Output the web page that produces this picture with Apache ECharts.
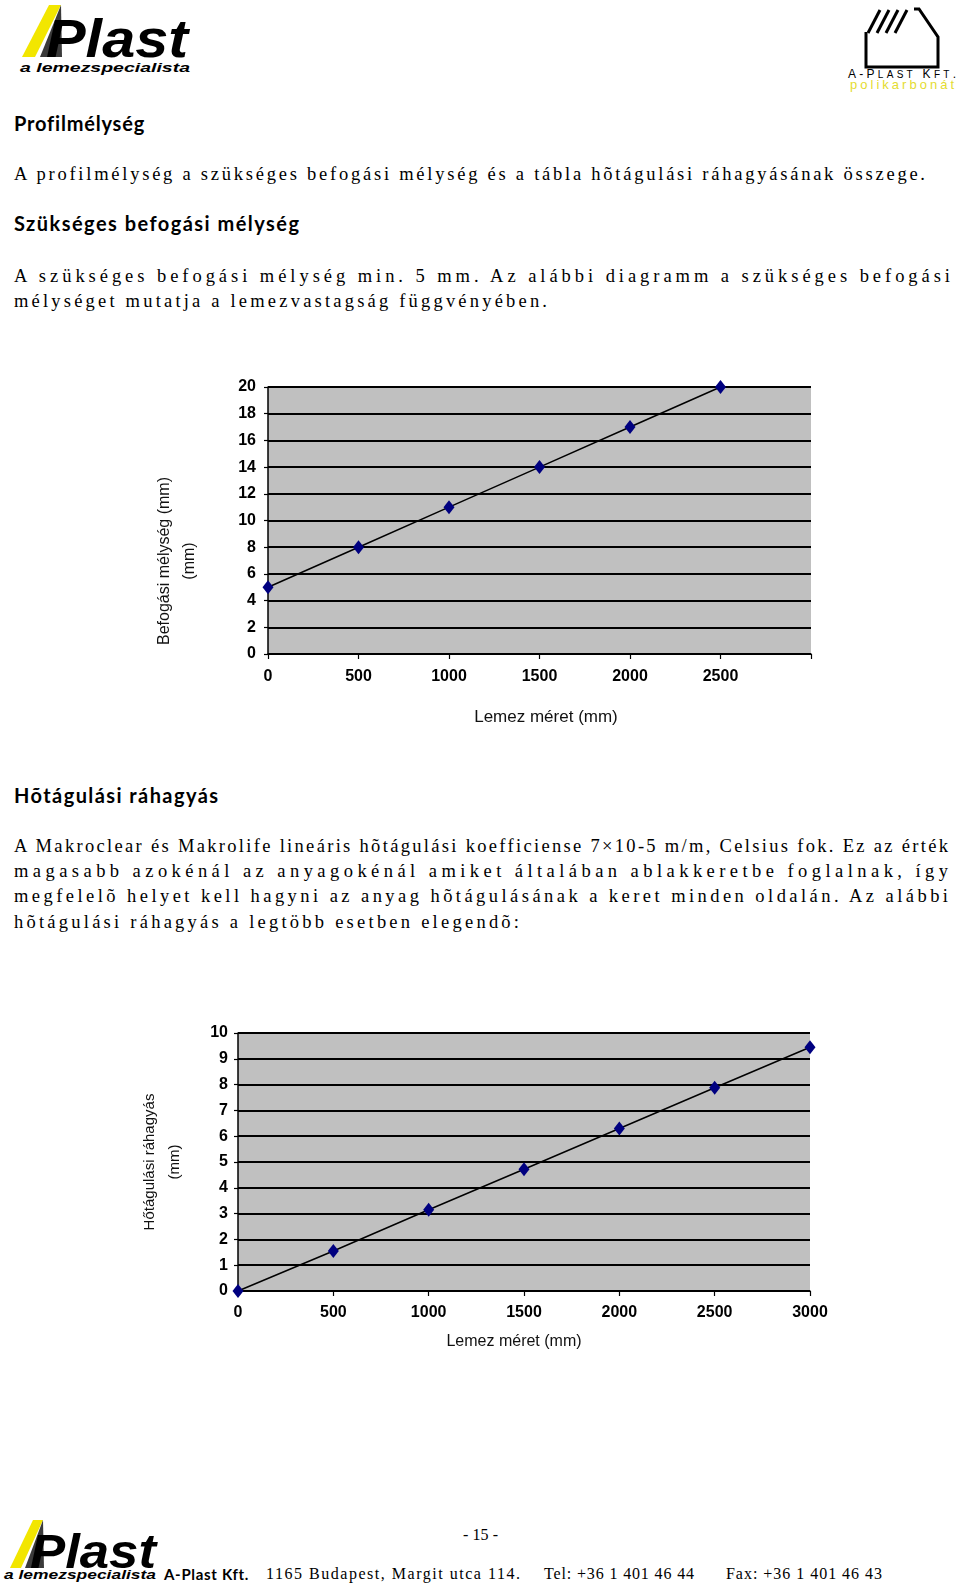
<!DOCTYPE html>
<html>
<head>
<meta charset="utf-8">
<script src="https://cdn.jsdelivr.net/npm/echarts@6/dist/echarts.min.js"></script>
<style>
html,body{margin:0;padding:0;background:#fff;}
#page{position:relative;width:960px;height:1585px;overflow:hidden;background:#fff;}
.t{position:absolute;white-space:nowrap;color:#000;}
.h{font-family:Lato,"Liberation Sans",Arial,sans-serif;font-weight:bold;font-size:20px;line-height:22px;}
.p{font-family:"Liberation Serif",serif;font-size:18.5px;line-height:20px;}
.f{font-family:"Liberation Serif",serif;font-size:16px;line-height:20px;}
#c1{position:absolute;left:0;top:360px;width:960px;height:380px;}
#c2{position:absolute;left:0;top:1000px;width:960px;height:360px;}
</style>
</head>
<body>
<div id="page">
  <!-- top-left logo -->
  <svg class="t" style="left:0;top:0" width="200" height="80">
    <polygon points="22,57 35,57 61,5 49,5" fill="#f2e600"/>
    <polygon points="40,57 61,5 62,57" fill="#3a3a3a"/>
    <text x="46" y="57" font-family="Liberation Sans" font-weight="bold" font-style="italic" font-size="54" textLength="142" lengthAdjust="spacingAndGlyphs" fill="#000">Plast</text>
    <text x="20" y="72" font-family="Liberation Sans" font-weight="bold" font-style="italic" font-size="13" textLength="170" lengthAdjust="spacingAndGlyphs" fill="#000">a lemezspecialista</text>
  </svg>
  <!-- top-right logo -->
  <svg class="t" style="left:840px;top:0" width="120" height="95">
    <polyline points="26,32 26,67 98,67 98,37 79,9 74,9" fill="none" stroke="#000" stroke-width="3"/>
    <line x1="28" y1="33" x2="40" y2="10" stroke="#000" stroke-width="3"/>
    <line x1="37" y1="33" x2="49" y2="10" stroke="#000" stroke-width="3"/>
    <line x1="46" y1="33" x2="58" y2="10" stroke="#000" stroke-width="3"/>
    <line x1="55" y1="33" x2="67" y2="10" stroke="#000" stroke-width="3"/>
    <text x="62" y="78" text-anchor="middle" font-family="Liberation Sans" font-size="12" fill="#000" textLength="108" lengthAdjust="spacing">A-P<tspan font-size="10">LAST</tspan> K<tspan font-size="10">FT</tspan>.</text>
    <text x="62" y="89" text-anchor="middle" font-family="Liberation Sans" font-size="13" fill="#e4dc30" textLength="104" lengthAdjust="spacing">polikarbonát</text>
  </svg>

  <div class="t h" data-c="123" data-x="14" data-w="130">Profilmélység</div>
  <div class="t p" data-c="174" data-x="14" data-w="911">A profilmélység a szükséges befogási mélység és a tábla hõtágulási ráhagyásának összege.</div>
  <div class="t h" data-c="223" data-x="14" data-w="285">Szükséges befogási mélység</div>
  <div class="t p" data-c="276" data-x="14" data-w="936">A szükséges befogási mélység min. 5 mm. Az alábbi diagramm a szükséges befogási</div>
  <div class="t p" data-c="301" data-x="14" data-w="533">mélységet mutatja a lemezvastagság függvényében.</div>

  <div class="t h" data-c="795" data-x="14" data-w="204">Hõtágulási ráhagyás</div>
  <div class="t p" data-c="846" data-x="14" data-w="934">A Makroclear és Makrolife lineáris hõtágulási koefficiense 7×10-5 m/m, Celsius fok. Ez az érték</div>
  <div class="t p" data-c="871" data-x="14" data-w="934">magasabb azokénál az anyagokénál amiket általában ablakkeretbe foglalnak, így</div>
  <div class="t p" data-c="896" data-x="14" data-w="934">megfelelõ helyet kell hagyni az anyag hõtágulásának a keret minden oldalán. Az alábbi</div>
  <div class="t p" data-c="922" data-x="14" data-w="505">hõtágulási ráhagyás a legtöbb esetben elegendõ:</div>

  <div id="c1"></div>
  <div id="c2"></div>

  <!-- footer -->
  <svg class="t" style="left:0;top:1510px" width="170" height="75">
    <polygon points="10,58 21,58 43,10 33,10" fill="#f2e600"/>
    <polygon points="25,58 43,10 44,58" fill="#3a3a3a"/>
    <text x="30" y="58" font-family="Liberation Sans" font-weight="bold" font-style="italic" font-size="48" textLength="126" lengthAdjust="spacingAndGlyphs" fill="#000">Plast</text>
    <text x="4" y="69" font-family="Liberation Sans" font-weight="bold" font-style="italic" font-size="13" textLength="152" lengthAdjust="spacingAndGlyphs" fill="#000">a lemezspecialista</text>
  </svg>
  <div class="t f" data-c="1535" data-x="463" data-w="35">- 15 -</div>
  <div class="t h" style="font-size:15px" data-c="1574" data-x="164" data-w="84">A-Plast Kft.</div>
  <div class="t f" data-c="1574" data-x="266" data-w="254">1165 Budapest, Margit utca 114.</div>
  <div class="t f" data-c="1574" data-x="544" data-w="150">Tel: +36 1 401 46 44</div>
  <div class="t f" data-c="1574" data-x="726" data-w="156">Fax: +36 1 401 46 43</div>
</div>

<script>
// ---------- data ----------
const sizes1 = [0, 500, 1000, 1500, 2000, 2500];
const depth = [5, 8, 11, 14, 17, 20];
const sizes2 = [0, 500, 1000, 1500, 2000, 2500, 3000];
const expansion = [0, 1.55, 3.15, 4.72, 6.3, 7.88, 9.45];
const xAxisTitle = 'Lemez méret (mm)';
const yTitle1 = ['Befogási mélység (mm)', '(mm)'];
const yTitle2 = ['Hőtágulási ráhagyás', '(mm)'];

// ---------- text fitting ----------
document.querySelectorAll('[data-w]').forEach(el => {
  const lh = parseFloat(getComputedStyle(el).lineHeight);
  el.style.left = el.dataset.x + 'px';
  el.style.top = (parseFloat(el.dataset.c) - lh / 2) + 'px';
  const w = el.getBoundingClientRect().width;
  const n = el.textContent.length;
  const target = parseFloat(el.dataset.w);
  el.style.letterSpacing = ((target - w) / Math.max(1, n - 1)) + 'px';
});

// ---------- charts ----------
const labelFont = {color: '#000', fontWeight: 'bold', fontSize: 16, fontFamily: 'Liberation Sans'};
function makeOption(cfg) {
  return {
    animation: false,
    grid: {left: cfg.left, top: cfg.top, width: cfg.width, height: cfg.height,
      show: true, backgroundColor: '#c0c0c0', borderWidth: 0},
    xAxis: {
      type: 'value', min: 0, max: 3000, interval: 500,
      axisLine: {show: true, onZero: false, lineStyle: {color: '#000', width: 1.5}},
      axisTick: {show: true, length: 5, lineStyle: {color: '#000', width: 1.2}},
      splitLine: {show: false},
      axisLabel: Object.assign({margin: cfg.xMargin, formatter: v => (v > cfg.lastLabel ? '' : String(v))}, labelFont)
    },
    yAxis: {
      type: 'value', min: 0, max: cfg.ymax, interval: cfg.yint,
      axisLine: {show: true, onZero: false, lineStyle: {color: '#000', width: 1.5}},
      axisTick: {show: true, length: 4, lineStyle: {color: '#000', width: 1.2}},
      splitLine: {show: true, lineStyle: {color: '#000', width: 2}},
      axisLabel: Object.assign({margin: cfg.yMargin}, labelFont)
    },
    series: [{
      type: 'line', data: cfg.xs.map((x, i) => [x, cfg.ys[i]]),
      symbol: 'diamond', symbolSize: [11, 14], clip: false,
      itemStyle: {color: '#000080'},
      lineStyle: {color: '#000', width: 1.5}
    }],
    graphic: [
      {type: 'text', x: cfg.xName[0], y: cfg.xName[1],
        style: {text: xAxisTitle, font: cfg.xNameFont + ' "Liberation Sans"', fill: '#111', align: 'center', verticalAlign: 'middle'}},
      {type: 'text', x: cfg.yName1[0], y: cfg.yName1[1], rotation: Math.PI / 2,
        style: {text: cfg.yTitle[0], font: cfg.yNameFont + ' "Liberation Sans"', fill: '#111', align: 'center', verticalAlign: 'middle'}},
      {type: 'text', x: cfg.yName2[0], y: cfg.yName2[1], rotation: Math.PI / 2,
        style: {text: cfg.yTitle[1], font: cfg.yNameFont + ' "Liberation Sans"', fill: '#111', align: 'center', verticalAlign: 'middle'}}
    ]
  };
}

const chart1 = echarts.init(document.getElementById('c1'), null, {renderer: 'canvas'});
chart1.setOption(makeOption({
  left: 268, top: 27, width: 543, height: 267, ymax: 20, yint: 2,
  xMargin: 15, yMargin: 12, lastLabel: 2500,
  xs: sizes1, ys: depth, yTitle: yTitle1,
  xName: [546, 357], yName1: [165, 201], yName2: [190, 201],
  xNameFont: '17px', yNameFont: '16px'
}));

const chart2 = echarts.init(document.getElementById('c2'), null, {renderer: 'canvas'});
chart2.setOption(makeOption({
  left: 238, top: 33, width: 572, height: 258, ymax: 10, yint: 1,
  xMargin: 14, yMargin: 10, lastLabel: 3000,
  xs: sizes2, ys: expansion, yTitle: yTitle2,
  xName: [514, 342], yName1: [150, 162], yName2: [175, 162],
  xNameFont: '16px', yNameFont: '15px'
}));
</script>
</body>
</html>
